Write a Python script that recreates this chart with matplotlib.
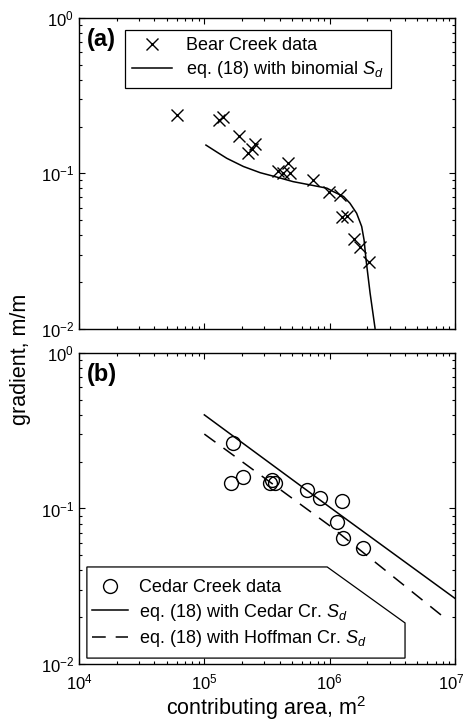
import matplotlib
matplotlib.use('Agg')
from matplotlib import pyplot as plt
from matplotlib.patches import Polygon
from matplotlib.ticker import LogLocator, NullFormatter
from matplotlib.transforms import ScaledTranslation

plt.rcParams['font.family'] = ['Liberation Sans', 'DejaVu Sans']
plt.rcParams['mathtext.fontset'] = 'custom'
plt.rcParams['mathtext.rm'] = 'Liberation Sans'
plt.rcParams['mathtext.it'] = 'Liberation Sans:italic'
plt.rcParams['mathtext.bf'] = 'Liberation Sans:bold'

""" panel (a) - Bear Creek """
bear_area = [6.0e4, 1.32e5, 1.42e5, 1.9e5, 2.24e5, 2.39e5, 2.54e5,
             3.9e5, 4.28e5, 4.69e5, 4.83e5, 7.4e5, 9.8e5, 1.21e6,
             1.25e6, 1.37e6, 1.55e6, 1.75e6, 2.04e6]
bear_grad = [0.238, 0.221, 0.232, 0.174, 0.135, 0.143, 0.155,
             0.103, 0.100, 0.116, 0.101, 0.0908, 0.0763, 0.0728,
             0.0528, 0.0533, 0.0378, 0.0338, 0.0271]

binom_area = [1.03e5, 1.26e5, 1.51e5, 2.05e5, 2.79e5, 3.79e5, 5.1e5,
              6.98e5, 9.5e5, 1.07e6, 1.29e6, 1.45e6, 1.64e6, 1.80e6,
              1.88e6, 1.95e6, 2.10e6, 2.30e6]
binom_grad = [0.152, 0.137, 0.125, 0.1107, 0.101, 0.0946, 0.0885,
              0.0843, 0.0803, 0.0763, 0.0710, 0.0643, 0.0554, 0.0455,
              0.0373, 0.0278, 0.0170, 0.0101]

""" panel (b) - Cedar Creek """
cedar_area = [1.70e5, 1.63e5, 2.05e5, 3.34e5, 3.45e5, 3.67e5, 6.6e5,
              8.4e5, 1.25e6, 1.15e6, 1.27e6, 1.84e6]
cedar_grad = [0.262, 0.1466, 0.160, 0.146, 0.152, 0.1466, 0.1315,
              0.1164, 0.1116, 0.0815, 0.0649, 0.0554]

cedar_fit_area = [1.0e5, 1.0e6, 1.0e7]
cedar_fit_grad = [0.40, 0.102, 0.0264]

hoff_fit_area = [1.0e5, 1.0e6, 8.07e6]
hoff_fit_grad = [0.301, 0.0775, 0.0201]

xticks = [1e4, 1e5, 1e6, 1e7]
xticklabels = ['$10^{4}$', '$10^{5}$', '$10^{6}$', '$10^{7}$']
yticks = [1e-2, 1e-1, 1e0]
yticklabels = ['$10^{-2}$', '$10^{-1}$', '$10^{0}$']

fig = plt.figure(figsize=(4.66, 7.26), dpi=100)
ax1 = fig.add_axes([0.1695, 0.547, 0.807, 0.4284])
ax2 = fig.add_axes([0.1695, 0.0854, 0.807, 0.4284])


def style(ax, show_x):
    ax.set_xscale('log')
    ax.set_yscale('log')
    ax.set_xlim(1e4, 1e7)
    ax.set_ylim(1e-2, 1e0)
    ax.set_xticks(xticks)
    ax.set_yticks(yticks)
    ax.set_yticklabels(yticklabels)
    if show_x:
        ax.set_xticklabels(xticklabels)
    else:
        ax.set_xticklabels([])
    ax.xaxis.set_minor_locator(LogLocator(base=10, subs=range(2, 10)))
    ax.yaxis.set_minor_locator(LogLocator(base=10, subs=range(2, 10)))
    ax.xaxis.set_minor_formatter(NullFormatter())
    ax.yaxis.set_minor_formatter(NullFormatter())
    ax.tick_params(which='both', direction='in', top=True, right=True,
                   labelsize=12, width=0.8)
    ax.tick_params(which='major', length=4)
    ax.tick_params(which='minor', length=2)
    ax.tick_params(axis='x', pad=6)
    for s in ax.spines.values():
        s.set_linewidth(1.0)


style(ax1, False)
style(ax2, True)

# pull the last x label a bit in so it is not clipped at the edge
last = ax2.get_xticklabels()[-1]
last.set_transform(last.get_transform()
                   + ScaledTranslation(-4 / 100, 0, fig.dpi_scale_trans))

ax1.plot(bear_area, bear_grad, 'x', color='black', markersize=9,
         markeredgewidth=1.0, label='Bear Creek data')
ax1.plot(binom_area, binom_grad, '-', color='black', linewidth=1.1,
         label='eq. (18) with binomial $S_d$')
ax1.legend(loc='upper left', bbox_to_anchor=(0.122, 0.962), borderaxespad=0,
           fontsize=13, fancybox=False, edgecolor='black', framealpha=1,
           handlelength=2.2, borderpad=0.4, labelspacing=0.3)
ax1.legend_.get_frame().set_linewidth(0.9)
ax1.text(0.02, 0.968, '(a)', transform=ax1.transAxes, fontsize=17,
         fontweight='bold', va='top', ha='left')

ax2.plot(cedar_area, cedar_grad, 'o', color='black', markersize=10,
         markerfacecolor='none', markeredgewidth=1.0, label='Cedar Creek data')
ax2.plot(cedar_fit_area, cedar_fit_grad, '-', color='black', linewidth=1.1,
         label='eq. (18) with Cedar Cr. $S_d$')
ax2.plot(hoff_fit_area, hoff_fit_grad, '--', color='black', linewidth=1.1,
         dashes=(9, 6.5), label='eq. (18) with Hoffman Cr. $S_d$')

# odd shaped legend frame like the original
frame = Polygon([(0.021, 0.019), (0.021, 0.312), (0.66, 0.312),
                 (0.867, 0.132), (0.867, 0.019)], closed=True,
                transform=ax2.transAxes, facecolor='white',
                edgecolor='black', linewidth=0.9, zorder=3)
ax2.add_patch(frame)
leg = ax2.legend(loc='lower left', bbox_to_anchor=(0.015, 0.025),
                 borderaxespad=0, fontsize=13, frameon=False,
                 handlelength=2.0, handletextpad=0.6, labelspacing=0.3)
leg.set_zorder(4)
ax2.text(0.02, 0.968, '(b)', transform=ax2.transAxes, fontsize=17,
         fontweight='bold', va='top', ha='left')

fig.text(0.043, 0.505, 'gradient, m/m', rotation=90, fontsize=15.5,
         ha='center', va='center')
fig.text(0.57, 0.006, 'contributing area, m$^2$', fontsize=15.5,
         ha='center', va='bottom')

plt.savefig('out.png', dpi=100)
